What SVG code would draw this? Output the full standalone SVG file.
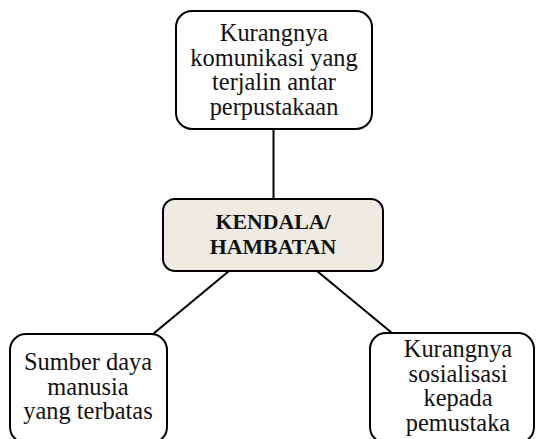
<svg xmlns="http://www.w3.org/2000/svg" width="537" height="439" viewBox="0 0 537 439">
<style>
.box{fill:#fff;stroke:#000;stroke-width:2}
.main{fill:#EEEBE3;stroke:#000;stroke-width:2}
.t{font-family:"Liberation Serif","DejaVu Serif",serif;font-size:24.4px;fill:#111;text-anchor:middle}
.b{font-family:"Liberation Serif","DejaVu Serif",serif;font-size:21.8px;font-weight:bold;fill:#111;text-anchor:middle}
.c{stroke:#000;stroke-width:2;fill:none}
</style>
<rect width="537" height="439" fill="#fff"/>
<g id="connectors">
<line class="c" x1="273.5" y1="129" x2="273.5" y2="199"/>
<line class="c" x1="229" y1="271" x2="153" y2="334"/>
<line class="c" x1="317" y1="271" x2="392" y2="333"/>
</g>
<g id="top">
<rect class="box" x="176" y="11" width="196" height="118" rx="16"/>
<text class="t" x="274" y="41">Kurangnya</text>
<text class="t" x="274" y="65.7">komunikasi yang</text>
<text class="t" x="274" y="90.4">terjalin antar</text>
<text class="t" x="274" y="115">perpustakaan</text>
</g>
<g id="center">
<rect class="main" x="163" y="199" width="220" height="72" rx="12"/>
<text class="b" x="273" y="229">KENDALA/</text>
<text class="b" x="273" y="254">HAMBATAN</text>
</g>
<g id="left">
<rect class="box" x="10" y="334" width="157" height="109" rx="16"/>
<text class="t" x="88" y="370">Sumber daya</text>
<text class="t" x="88" y="394.5">manusia</text>
<text class="t" x="88" y="419">yang terbatas</text>
</g>
<g id="right">
<rect class="box" x="370" y="333" width="164" height="110" rx="16"/>
<text class="t" x="458" y="357">Kurangnya</text>
<text class="t" x="458" y="381.7">sosialisasi</text>
<text class="t" x="458" y="406.4">kepada</text>
<text class="t" x="458" y="431">pemustaka</text>
</g>
</svg>
